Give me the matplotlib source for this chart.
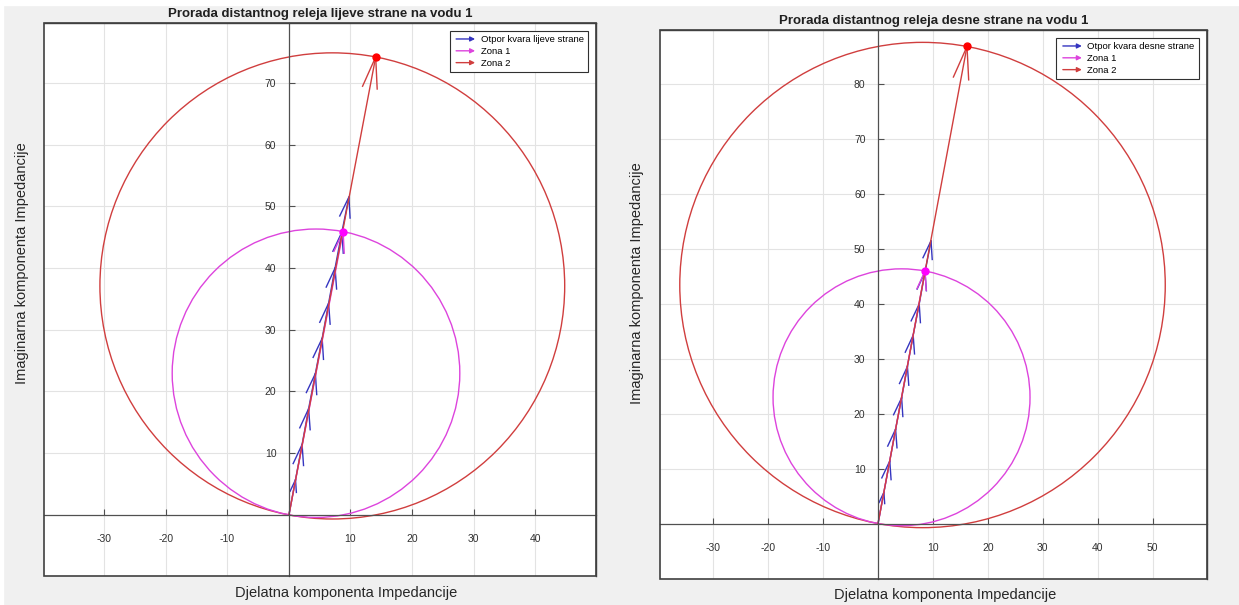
import numpy as np
import matplotlib
matplotlib.use('Agg')
import matplotlib.pyplot as plt
from matplotlib.lines import Line2D
from matplotlib.patches import FancyArrowPatch, Rectangle, Circle
from matplotlib.legend_handler import HandlerBase

plt.rcParams['font.family'] = ['Liberation Sans', 'DejaVu Sans']
plt.rcParams['axes.unicode_minus'] = False

titles = ['Prorada distantnog releja lijeve strane na vodu 1',
          'Prorada distantnog releja desne strane na vodu 1']
legend_first = ['Otpor kvara lijeve strane', 'Otpor kvara desne strane']

# blue arrow tips along the line
otpor_re_L = [1.07, 2.14, 3.2, 4.3, 5.4, 6.45, 7.5, 8.6, 9.75]
otpor_im_L = [5.7, 11.4, 17.2, 22.9, 28.6, 34.3, 40.0, 45.8, 51.5]
otpor_re_R = [1.07, 2.14, 3.2, 4.3, 5.35, 6.4, 7.5, 8.55, 9.65]
otpor_im_R = [5.7, 11.4, 17.2, 22.9, 28.6, 34.3, 40.0, 45.8, 51.5]

zona1_L = (8.8, 45.9)
zona2_L = (14.1, 74.2)
zona1_R = (8.56, 46.0)
zona2_R = (16.2, 86.9)

xticks_L = [-30, -20, -10, 10, 20, 30, 40]
yticks_L = [10, 20, 30, 40, 50, 60, 70]
xticks_R = [-30, -20, -10, 10, 20, 30, 40, 50]
yticks_R = [10, 20, 30, 40, 50, 60, 70, 80]

xlim_L, ylim_L = (-39.8, 49.9), (-9.9, 79.7)
xlim_R, ylim_R = (-39.7, 59.9), (-10.1, 89.9)

BLUE = '#3535c0'
MAG = '#dd44dd'
RED = '#d03e3e'
W, H = 1239, 605


def arrow(ax, base, tip, head, half, color, lw=1.0):
    base = np.array(base, float)
    tip = np.array(tip, float)
    d = tip - base
    u = d / np.hypot(*d)
    p = np.array([-u[1], u[0]])
    back = tip - u * head
    ax.plot([base[0], tip[0]], [base[1], tip[1]], color=color, lw=lw)
    a = back + p * half
    b = back - p * half
    ax.plot([a[0], tip[0], b[0]], [a[1], tip[1], b[1]], color=color, lw=lw)


def mho(ax, z, color):
    # characteristic circle: diameter from origin to the zone point
    c = (z[0] / 2.0, z[1] / 2.0)
    ax.add_patch(Circle(c, np.hypot(*z) / 2.0, fill=False, ec=color, lw=1))


class ArrowHandler(HandlerBase):
    def create_artists(self, legend, orig, xd, yd, width, height, fontsize, trans):
        a = FancyArrowPatch((-xd, height / 2 - yd), (width - xd, height / 2 - yd),
                            arrowstyle='-|>', mutation_scale=7, lw=1,
                            color=orig.get_color(), transform=trans)
        return [a]


def panel(ax, title, leg1, ore, oim, z1, z2, xt, yt, xl, yl):
    ax.set_xlim(*xl)
    ax.set_ylim(*yl)
    ax.set_xticks(xt)
    ax.set_yticks(yt)
    ax.grid(True, color='#e3e3e3', lw=0.8)
    ax.set_axisbelow(True)
    for s in ['left', 'bottom']:
        ax.spines[s].set_position(('data', 0))
        ax.spines[s].set_color('#505050')
        ax.spines[s].set_linewidth(0.9)
    for s in ['top', 'right']:
        ax.spines[s].set_color('#404040')
        ax.spines[s].set_linewidth(1.0)
    ax.add_patch(Rectangle((0, 0), 1, 1, transform=ax.transAxes, fill=False,
                           ec='#404040', lw=1.2, zorder=5, clip_on=False))
    ax.tick_params(direction='in', length=4, labelsize=7.5, colors='#505050',
                   labelcolor='#303030')
    ax.tick_params(axis='x', pad=14)
    ax.tick_params(axis='y', pad=9)

    mho(ax, z2, RED)
    mho(ax, z1, MAG)

    # blue arrows along the line
    prev = (0.0, 0.0)
    for k in range(len(ore)):
        tip = (ore[k], oim[k])
        h = 2.0 if k == 0 else 3.3
        arrow(ax, prev, tip, h, h * 0.26, BLUE)
        prev = tip

    arrow(ax, (0, 0), z1, 3.4, 0.85, MAG)
    arrow(ax, (0, 0), z2, np.hypot(*z2) * 0.067, np.hypot(*z2) * 0.016, RED)
    ax.plot(*z1, 'o', color='#ff00ff', ms=5)
    ax.plot(*z2, 'o', color='#ff0000', ms=5)

    ax.set_title(title, fontsize=9.5, fontweight='bold', color='#202020', pad=4)

    handles = [Line2D([], [], color=BLUE), Line2D([], [], color=MAG),
               Line2D([], [], color=RED)]
    leg = ax.legend(handles, [leg1, 'Zona 1', 'Zona 2'], loc='upper right',
                    fontsize=6.8, handler_map={Line2D: ArrowHandler()},
                    fancybox=False, framealpha=1, edgecolor='#303030',
                    handlelength=2.6, handletextpad=0.3, borderpad=0.4,
                    labelspacing=0.3, borderaxespad=0.9)
    leg.get_frame().set_linewidth(0.8)
    leg.set_zorder(10)


fig = plt.figure(figsize=(W / 100, H / 100), dpi=100, facecolor='#f0f0f0')
fig.patches.append(Rectangle((0, 1 - 5 / H), 1, 5 / H, transform=fig.transFigure,
                             color='white', zorder=0))
fig.patches.append(Rectangle((0, 0), 3 / W, 1, transform=fig.transFigure,
                             color='white', zorder=0))

axL = fig.add_axes([44 / W, 1 - 576 / H, 552 / W, 553 / H])
axR = fig.add_axes([660 / W, 1 - 579 / H, 547 / W, 549 / H])

panel(axL, titles[0], legend_first[0], otpor_re_L, otpor_im_L, zona1_L, zona2_L,
      xticks_L, yticks_L, xlim_L, ylim_L)
panel(axR, titles[1], legend_first[1], otpor_re_R, otpor_im_R, zona1_R, zona2_R,
      xticks_R, yticks_R, xlim_R, ylim_R)

# axis labels placed where they sit in the picture
lab = dict(fontsize=10.5, color='#262626')
fig.text(346 / W, 1 - 593 / H, 'Djelatna komponenta Impedancije', ha='center', va='center', **lab)
fig.text(945 / W, 1 - 595 / H, 'Djelatna komponenta Impedancije', ha='center', va='center', **lab)
fig.text(22 / W, 1 - 263 / H, 'Imaginarna komponenta Impedancije', ha='center', va='center',
         rotation=90, **lab)
fig.text(637 / W, 1 - 283 / H, 'Imaginarna komponenta Impedancije', ha='center', va='center',
         rotation=90, **lab)

fig.savefig('out.png', dpi=100, facecolor=fig.get_facecolor())
